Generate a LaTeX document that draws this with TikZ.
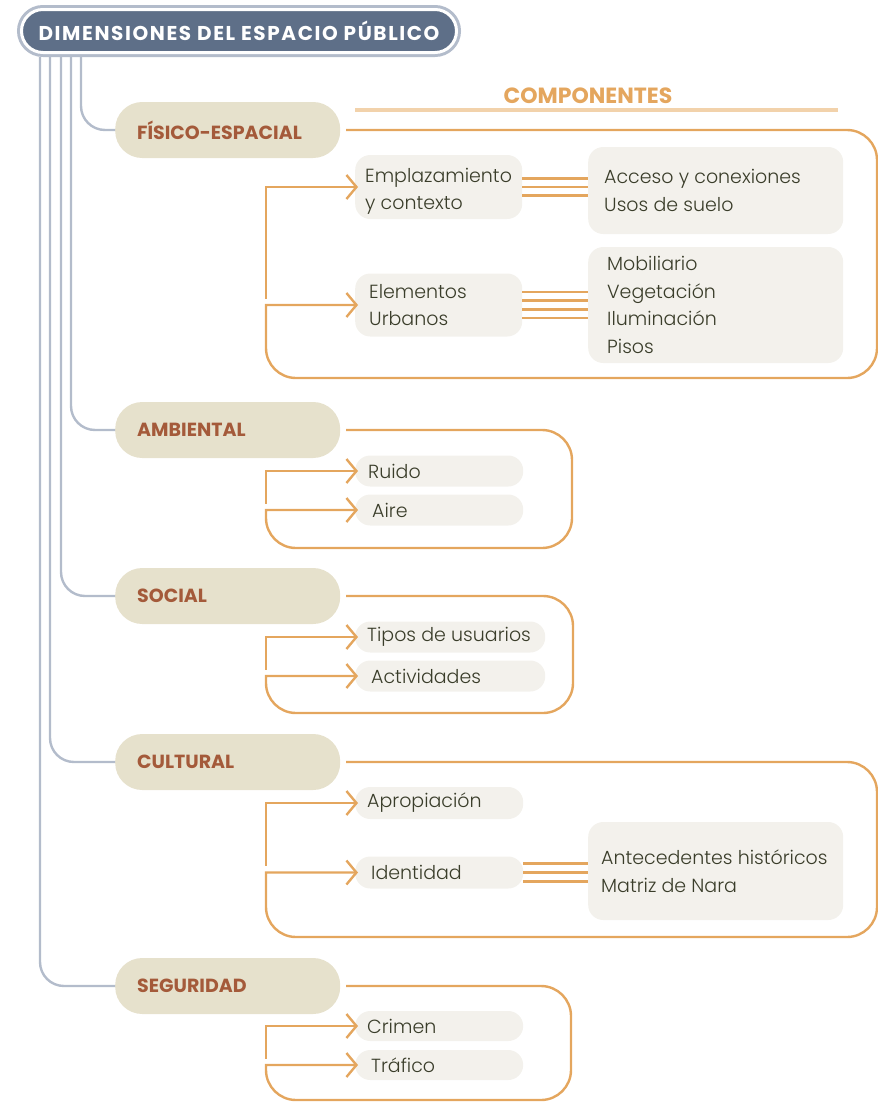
\documentclass[tikz,border=0pt]{standalone}
\usepackage{fontspec}
\setmainfont{Poppins}
\newfontfamily\lightfont{Poppins Light}
\usetikzlibrary{arrows.meta}

\definecolor{titleblue}{HTML}{5E6F88}
\definecolor{ringgray}{HTML}{B3BCCB}
\definecolor{dimfill}{HTML}{E6E1CC}
\definecolor{dimtext}{HTML}{A45A3A}
\definecolor{compfill}{HTML}{F3F1EC}
\definecolor{comptext}{HTML}{3A3D2A}
\definecolor{compline}{HTML}{E4A65E}
\definecolor{headline}{HTML}{F2D2AB}

\begin{document}
\begin{tikzpicture}[x=1pt, y=-1pt,
				titlenode/.style={fill=titleblue, draw=white, line width=3pt, preaction={draw=ringgray, line width=9pt}, rounded corners=21.5pt, minimum width=435pt, minimum height=43pt, outer sep=4.5pt, text=white, font=\bfseries\fontsize{20}{24}\selectfont\addfontfeature{LetterSpace=8}},
				dimnode/.style={anchor=west, fill=dimfill, text=dimtext, rounded corners=27pt, minimum height=56pt, text width=181pt, inner xsep=22pt, align=left, font=\bfseries\fontsize{19}{22}\selectfont},
				compnode/.style={anchor=west, fill=compfill, text=comptext, rounded corners=15pt, inner ysep=3pt, align=flush left, font=\lightfont\fontsize{19}{27.5}\selectfont},
				dimline/.style={draw=ringgray, line width=2.4pt, rounded corners=24pt},
				bracket/.style={draw=compline, line width=2.4pt, line cap=rect, rounded corners=30pt, -{Straight Barb[length=10pt, width=24pt]}, shorten >=-3pt},
				linkline/.style={draw=compline, line width=2.8pt}
			]

			\useasboundingbox (0,0) rectangle (878,1103);

			\def \lx {266}

			\node[titlenode] (dim) at (239,31) {DIMENSIONES DEL ESPACIO PÚBLICO};

			\node[text=compline, font=\bfseries\fontsize{22}{26}\selectfont] (comp) at (588,96) {COMPONENTES};
			\draw[headline, line width=4.5pt] (355,110) -- (838,110);

			\foreach \n/\t/\y in {fis/FÍSICO-ESPACIAL/130, amb/AMBIENTAL/430, soc/SOCIAL/596, cul/CULTURAL/762, seg/SEGURIDAD/986} {
					\node[dimnode] (\n) at (115,\y) {\t};
				}

			\foreach \n/\x in {fis/81, amb/71, soc/61, cul/50, seg/40} {
					\draw[dimline] (dim.south -| \x,0) |- (\n.west);
				}

			\node[compnode, inner xsep=10pt, text width=147pt, minimum height=64pt] (empl) at (355,187) {\rule{0pt}{23pt}Emplazamiento\\y contexto};
			\node[compnode, inner xsep=14pt, text width=139pt, minimum height=63pt] (elem) at (355,305) {Elementos\\Urbanos};
			\node[compnode, inner xsep=16pt, text width=223pt, minimum height=87pt] (acc) at (588,190.5) {Acceso y conexiones\\Usos de suelo};
			\node[compnode, inner xsep=19pt, text width=217pt, minimum height=116pt] (mob) at (588,305) {Mobiliario\\Vegetación\\Iluminación\\Pisos};

			\node[compnode, inner xsep=13pt, text width=142pt, minimum height=31pt] (ruido) at (355,471) {Ruido};
			\node[compnode, inner xsep=17pt, text width=134pt, minimum height=31pt] (aire) at (355,510) {Aire};

			\node[compnode, inner xsep=12pt, text width=166pt, minimum height=31pt] (tipos) at (355,637) {Tipos de usuarios};
			\node[compnode, inner xsep=16pt, text width=158pt, minimum height=31pt] (activ) at (355,676) {Actividades};

			\node[compnode, inner xsep=12pt, text width=144pt, minimum height=32pt] (aprop) at (355,803) {Apropiación};
			\node[compnode, inner xsep=16pt, text width=136pt, minimum height=32pt] (ident) at (355,872.5) {Identidad};
			\node[compnode, inner xsep=13pt, text width=229pt, minimum height=98pt] (antec) at (588,871) {Antecedentes históricos\\Matriz de Nara};

			\node[compnode, inner xsep=12pt, text width=144pt, minimum height=30pt] (crimen) at (355,1026) {Crimen};
			\node[compnode, inner xsep=16pt, text width=136pt, minimum height=30pt] (trafico) at (355,1065) {Tráfico};

			\foreach \d/\a/\b/\r/\bot in {fis/empl/elem/877/378, amb/ruido/aire/572/548, soc/tipos/activ/573/713, cul/aprop/ident/877/937, seg/crimen/trafico/571/1100} {
					\coordinate (\d-se) at (\r,\bot);
					\coordinate (\d-sw) at (\lx,\bot);
					\draw[bracket] ([xshift=7pt]\d.east) -| (\d-se) -- (\d-sw) [sharp corners] |- (\b.west);
					\path (\b.west -| \d-sw) coordinate (\d-m);
					\draw[bracket, sharp corners] ([yshift=7.5pt]\d-m) |- (\a.west);
				}

			\foreach \dy in {-8.5, 0, 8.5} {
					\path (empl.east) ++(0,\dy) coordinate (l);
					\draw[linkline] (l) -- (l -| acc.west);
				}

			\foreach \dy in {-13, -4.3, 4.3, 13} {
					\path (elem.east) ++(0,\dy) coordinate (l);
					\draw[linkline] (l) -- (l -| mob.west);
				}

			\foreach \dy in {-9, 0, 9} {
					\path (ident.east) ++(0,\dy) coordinate (l);
					\draw[linkline] (l) -- (l -| antec.west);
				}

		\end{tikzpicture}
\end{document}
